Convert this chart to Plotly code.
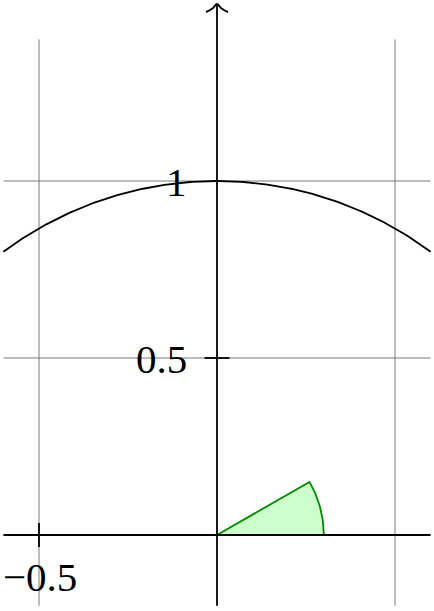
import numpy as np
import plotly.graph_objects as go

# ---- data / figure parameters ----
x_range = [-0.6, 0.6]          # extent of axes & grid in x
y_axis_range = [-0.2, 1.5]     # y axis line (arrow at top)
grid_y_range = [-0.2, 1.4]     # grid extent in y
grid_x_vals = [-0.5, 0.5]
grid_y_vals = [0.5, 1.0]
circle_radius = 1.0
arc_x_limits = [-0.6, 0.6]
wedge_radius = 0.3
wedge_angle_deg = [0, 30]
y_tick_vals = [0.5]
y_tick_labels = {1.0: "1", 0.5: "0.5"}
x_tick_vals = [-0.5]
x_tick_labels = {-0.5: "\u22120.5"}

fig = go.Figure()

# grid
for gx in grid_x_vals:
    fig.add_trace(go.Scatter(x=[gx, gx], y=grid_y_range, mode="lines",
                             line=dict(color="#7a7a7a", width=1), hoverinfo="skip"))
for gy in grid_y_vals:
    fig.add_trace(go.Scatter(x=x_range, y=[gy, gy], mode="lines",
                             line=dict(color="#7a7a7a", width=1), hoverinfo="skip"))

# wedge
th = np.radians(np.linspace(wedge_angle_deg[0], wedge_angle_deg[1], 40))
wx = np.concatenate([[0], wedge_radius * np.cos(th), [0]])
wy = np.concatenate([[0], wedge_radius * np.sin(th), [0]])
fig.add_trace(go.Scatter(x=wx, y=wy, mode="lines", fill="toself",
                         fillcolor="#ccffcc", line=dict(color="#008a00", width=1.8),
                         hoverinfo="skip"))

# circle arc
ax_ = np.linspace(arc_x_limits[0], arc_x_limits[1], 200)
ay_ = np.sqrt(circle_radius**2 - ax_**2)
fig.add_trace(go.Scatter(x=ax_, y=ay_, mode="lines",
                         line=dict(color="black", width=1.8), hoverinfo="skip"))

# axes
fig.add_trace(go.Scatter(x=x_range, y=[0, 0], mode="lines",
                         line=dict(color="black", width=1.8), hoverinfo="skip"))
fig.add_trace(go.Scatter(x=[0, 0], y=y_axis_range, mode="lines",
                         line=dict(color="black", width=1.8), hoverinfo="skip"))
# arrow head on y axis
top = y_axis_range[1]
fig.add_trace(go.Scatter(x=[-0.031, -0.012, 0, 0.012, 0.031],
                         y=[top - 0.023, top - 0.012, top, top - 0.012, top - 0.023],
                         mode="lines", line=dict(color="black", width=1.8, shape="spline"),
                         hoverinfo="skip"))

# ticks
for ty in y_tick_vals:
    fig.add_trace(go.Scatter(x=[-0.035, 0.035], y=[ty, ty], mode="lines",
                             line=dict(color="black", width=1.8), hoverinfo="skip"))
for tx in x_tick_vals:
    fig.add_trace(go.Scatter(x=[tx, tx], y=[-0.034, 0.034], mode="lines",
                             line=dict(color="black", width=1.8), hoverinfo="skip"))

font = dict(family="Liberation Serif", size=41, color="black")
for v, t in y_tick_labels.items():
    fig.add_annotation(x=0, y=v, text=t, showarrow=False, xanchor="right", yanchor="middle",
                       xshift=-28, yshift=-1, font=font)
for v, t in x_tick_labels.items():
    fig.add_annotation(x=v, y=0, text=t, showarrow=False, xanchor="center", yanchor="top",
                       yshift=-17, xshift=1, font=font)

W, H = 434, 611
fig.update_layout(
    width=W, height=H, margin=dict(l=0, r=0, t=0, b=0),
    paper_bgcolor="white", plot_bgcolor="white", showlegend=False,
    xaxis=dict(range=[(0 - 217) / 356, (W - 217) / 356], visible=False, fixedrange=True),
    yaxis=dict(range=[(535 - H) / 354, 535 / 354], visible=False, fixedrange=True),
)

fig.write_html("out.html", config={"displayModeBar": False},
               post_script="document.body.style.margin='0';document.body.style.overflow='hidden';")
